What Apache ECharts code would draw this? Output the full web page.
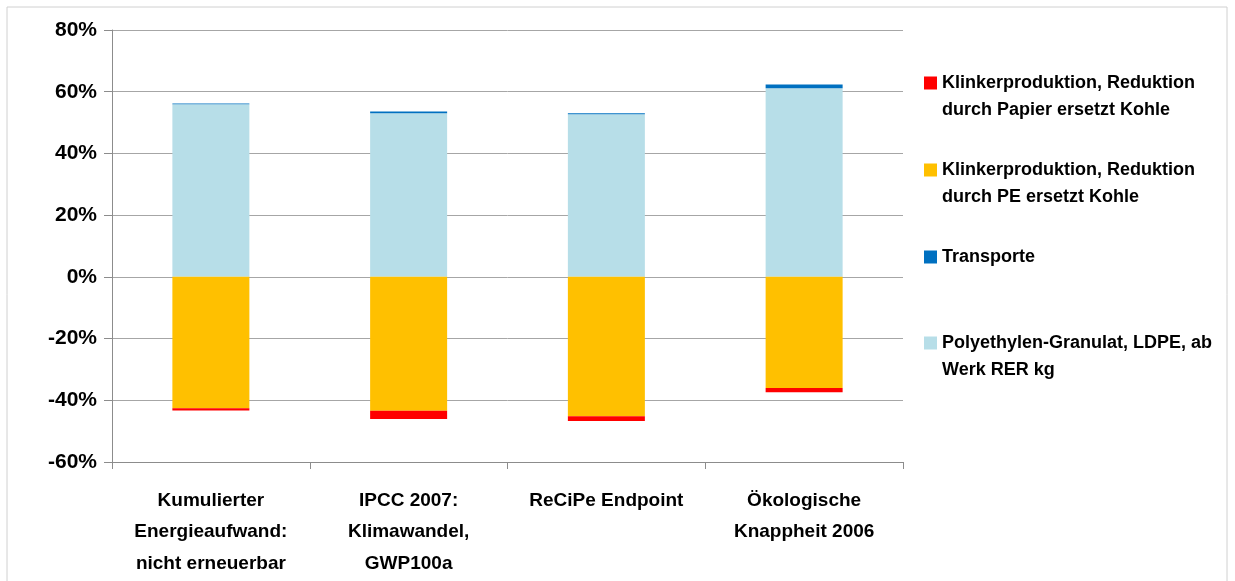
<!DOCTYPE html>
<html>
<head>
<meta charset="utf-8">
<script src="https://cdn.jsdelivr.net/npm/echarts@6/dist/echarts.min.js"></script>
<style>
  html, body { margin: 0; padding: 0; background: #fff; }
  #chart { width: 1235px; height: 581px; }
</style>
</head>
<body>
<div id="chart"></div>
<script>
// Kategorien und Werte (in %)
var categories = [
    'Kumulierter\nEnergieaufwand:\nnicht erneuerbar',
    'IPCC 2007:\nKlimawandel,\nGWP100a',
    'ReCiPe Endpoint',
    'Ökologische\nKnappheit 2006'
];
var seriesNames = [
    'Klinkerproduktion, Reduktion\ndurch Papier ersetzt Kohle',
    'Klinkerproduktion, Reduktion\ndurch PE ersetzt Kohle',
    'Transporte',
    'Polyethylen-Granulat, LDPE, ab\nWerk RER kg'
];
var papierKohle = [-0.75, -2.7, -1.5, -1.4];
var peKohle = [-42.6, -43.4, -45.2, -36.0];
var transporte = [0.3, 0.6, 0.3, 1.2];
var polyethylen = [55.9, 53.0, 52.7, 61.1];
var yTicks = [-60, -40, -20, 0, 20, 40, 60, 80];

(function () {
    var myChart = echarts.init(document.getElementById('chart'));
    var fontFam = 'Liberation Sans, Arial, sans-serif';

    // Legende: jeder Eintrag einzeln platziert
    // zweizeilige Einträge bekommen eine leere Zeile davor, damit das Symbol neben der ersten Zeile steht
    var lineH = 27;
    var firstLineY = [83, 170, 257, 343];
    var legends = [0, 1, 2, 3].map(function (i) {
        var twoLines = seriesNames[i].indexOf('\n') >= 0;
        return {
            data: [seriesNames[i]],
            left: 924,
            top: twoLines ? firstLineY[i] - lineH * 1.5 : firstLineY[i] - lineH / 2,
            orient: 'vertical',
            padding: 0,
            icon: 'rect',
            itemWidth: 13,
            itemHeight: 13,
            itemGap: 0,
            selectedMode: false,
            formatter: function (name) {
                return name.indexOf('\n') >= 0 ? ' \n' + name : name;
            },
            textStyle: {
                fontFamily: fontFam,
                fontWeight: 'bold',
                fontSize: 18,
                color: '#000',
                lineHeight: lineH
            }
        };
    });

    var option = {
        animation: false,
        backgroundColor: '#fff',
        graphic: [{
            type: 'rect',
            shape: { x: 7, y: 7, width: 1220, height: 600 },
            style: { fill: 'none', stroke: '#d0d0d0', lineWidth: 1 },
            silent: true
        }],
        legend: legends,
        grid: {
            left: 112,
            right: 332,
            top: 30,
            bottom: 119
        },
        xAxis: [
            {
                type: 'category',
                data: categories,
                position: 'bottom',
                axisLine: { show: false },
                axisTick: { show: false },
                axisLabel: {
                    interval: 0,
                    margin: 23,
                    fontFamily: fontFam,
                    fontWeight: 'bold',
                    fontSize: 19,
                    color: '#000',
                    lineHeight: 31.5
                }
            },
            {
                type: 'category',
                data: categories,
                position: 'bottom',
                axisLine: { show: true, onZero: true, lineStyle: { color: '#8c8c8c', width: 1 } },
                axisTick: { show: true, length: 7, lineStyle: { color: '#8c8c8c' } },
                axisLabel: { show: false }
            }
        ],
        yAxis: {
            type: 'value',
            min: yTicks[0],
            max: yTicks[yTicks.length - 1],
            interval: 20,
            axisLine: { show: true, lineStyle: { color: '#8c8c8c', width: 1 } },
            axisTick: { show: true, length: 8, lineStyle: { color: '#8c8c8c' } },
            splitLine: { show: true, lineStyle: { color: '#a6a6a6', width: 1 } },
            axisLabel: {
                margin: 15,
                fontFamily: fontFam,
                fontWeight: 'bold',
                fontSize: 21,
                color: '#000',
                formatter: '{value}%'
            }
        },
        series: [
            {
                name: seriesNames[3],
                type: 'bar',
                stack: 'total',
                barWidth: 77,
                data: polyethylen,
                itemStyle: { color: '#B7DEE8' }
            },
            {
                name: seriesNames[2],
                type: 'bar',
                stack: 'total',
                barWidth: 77,
                data: transporte,
                itemStyle: { color: '#0070C0' }
            },
            {
                name: seriesNames[1],
                type: 'bar',
                stack: 'total',
                barWidth: 77,
                data: peKohle,
                itemStyle: { color: '#FFC000' }
            },
            {
                name: seriesNames[0],
                type: 'bar',
                stack: 'total',
                barWidth: 77,
                data: papierKohle,
                itemStyle: { color: '#FF0000' }
            }
        ]
    };
    myChart.setOption(option);
})();
</script>
</body>
</html>
